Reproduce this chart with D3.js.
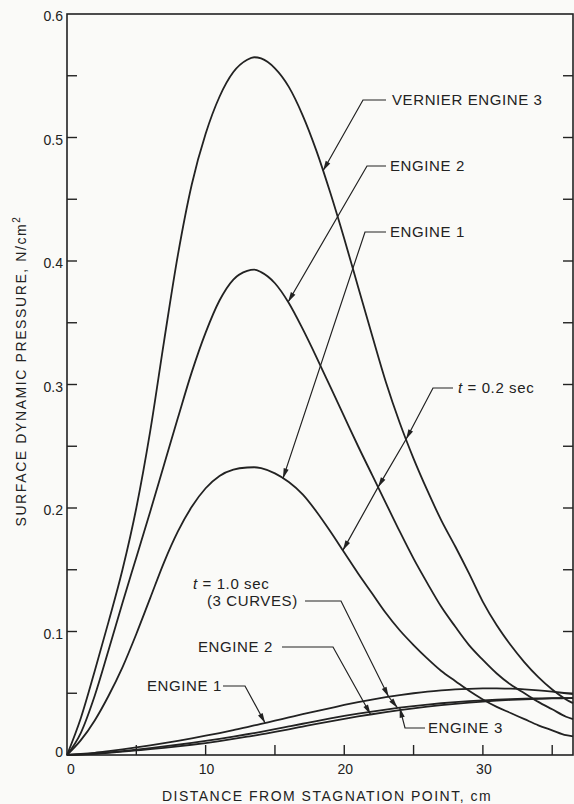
<!DOCTYPE html>
<html>
<head>
<meta charset="utf-8">
<script src="https://cdn.jsdelivr.net/npm/d3@7/dist/d3.min.js"></script>
<style>
  html, body { margin: 0; padding: 0; background: #fafaf8; }
  svg { display: block; }
  text { font-family: "Liberation Sans", Arial, sans-serif; fill: #222; }
</style>
</head>
<body>
<svg id="chart" width="574" height="804"></svg>
<script>
// ---------- DATA ----------
const distanceCm = [0,1,2,3,4,5,6,7,8,9,10,11,12,13,13.5,14,15,16,17,18,19,20,21,22,23,24,25,26,27,28,29,30,31,32,33,34,35,36,36.5];

// t = 0.2 sec
const vernierEngine3_t02 = [0,0.030,0.068,0.108,0.150,0.200,0.262,0.335,0.405,0.462,0.503,0.533,0.553,0.563,0.565,0.564,0.556,0.541,0.518,0.489,0.455,0.418,0.379,0.340,0.302,0.269,0.240,0.214,0.190,0.169,0.147,0.124,0.105,0.089,0.075,0.063,0.053,0.045,0.042];
const engine2_t02 = [0,0.018,0.048,0.085,0.123,0.160,0.197,0.235,0.273,0.310,0.342,0.368,0.385,0.392,0.393,0.391,0.382,0.366,0.345,0.322,0.298,0.274,0.250,0.227,0.204,0.181,0.159,0.139,0.120,0.104,0.089,0.077,0.066,0.057,0.050,0.043,0.037,0.031,0.029];
const engine1_t02 = [0,0.012,0.028,0.048,0.071,0.098,0.127,0.156,0.181,0.201,0.216,0.226,0.231,0.2328,0.233,0.2322,0.228,0.221,0.211,0.197,0.181,0.164,0.147,0.131,0.115,0.101,0.089,0.078,0.068,0.060,0.052,0.045,0.039,0.034,0.029,0.024,0.020,0.016,0.015];

// t = 1.0 sec
const engine1_t10 = [0,0.0008,0.0018,0.0031,0.0045,0.0061,0.0078,0.0096,0.0115,0.0135,0.0156,0.0178,0.0202,0.0226,0.0239,0.0252,0.0278,0.0304,0.0330,0.0355,0.0380,0.0405,0.0428,0.0449,0.0468,0.0485,0.0500,0.0513,0.0523,0.0531,0.0536,0.0539,0.0540,0.0537,0.0532,0.0524,0.0513,0.0500,0.0494];
const engine2_t10 = [0,0.0004,0.0010,0.0018,0.0027,0.0037,0.0047,0.0058,0.0070,0.0083,0.0097,0.0113,0.0130,0.0148,0.0157,0.0167,0.0187,0.0208,0.0230,0.0252,0.0273,0.0293,0.0312,0.0330,0.0347,0.0363,0.0378,0.0391,0.0403,0.0414,0.0424,0.0433,0.0440,0.0446,0.0451,0.0455,0.0458,0.0460,0.0461];
const engine3_t10 = [0,0.0005,0.0012,0.0021,0.0032,0.0044,0.0056,0.0069,0.0083,0.0098,0.0114,0.0131,0.0149,0.0168,0.0178,0.0188,0.0209,0.0231,0.0253,0.0275,0.0296,0.0316,0.0335,0.0352,0.0368,0.0383,0.0396,0.0408,0.0419,0.0428,0.0436,0.0443,0.0449,0.0453,0.0456,0.0458,0.0460,0.0461,0.0461];

const xTickValues = [0,10,20,30];
const xTickLabels = ["0","10","20","30"];
const xMinorTicks = [5,10,15,20,25,30,35];
const yTickValues = [0,0.1,0.2,0.3,0.4,0.5,0.6];
const yTickLabels = ["0","0.1","0.2","0.3","0.4","0.5","0.6"];
const yMinorTicks = [0.05,0.1,0.15,0.2,0.25,0.3,0.35,0.4,0.45,0.5,0.55];

const xTitle = "DISTANCE FROM STAGNATION POINT, cm";
const yTitle = "SURFACE DYNAMIC PRESSURE, N/cm";

// ---------- LAYOUT ----------
const svg = d3.select("#chart");
const mLeft = 67, mRight = 573, mTop = 14, mBottom = 755;
const x = d3.scaleLinear().domain([0, 36.5]).range([mLeft, mRight]);
const y = d3.scaleLinear().domain([0, 0.6]).range([mBottom, mTop]);
const ink = "#222";

const allSeries = [vernierEngine3_t02, engine2_t02, engine1_t02, engine1_t10, engine2_t10, engine3_t10];

const line = d3.line()
  .x(d => x(d[0]))
  .y(d => y(d[1]))
  .curve(d3.curveMonotoneX);

allSeries.forEach(vals => {
  svg.append("path")
    .attr("d", line(distanceCm.map((d, i) => [d, vals[i]])))
    .attr("fill", "none")
    .attr("stroke", ink)
    .attr("stroke-width", 1.8);
});

// frame
svg.append("rect")
  .attr("x", mLeft).attr("y", mTop)
  .attr("width", mRight - mLeft).attr("height", mBottom - mTop)
  .attr("fill", "none").attr("stroke", ink).attr("stroke-width", 1.6);

// ticks
const tk = 10;
yMinorTicks.forEach(v => {
  svg.append("line").attr("x1", mLeft).attr("x2", mLeft + tk).attr("y1", y(v)).attr("y2", y(v))
    .attr("stroke", ink).attr("stroke-width", 1.4);
  svg.append("line").attr("x1", mRight).attr("x2", mRight - tk).attr("y1", y(v)).attr("y2", y(v))
    .attr("stroke", ink).attr("stroke-width", 1.4);
});
xMinorTicks.forEach(v => {
  svg.append("line").attr("x1", x(v)).attr("x2", x(v)).attr("y1", mBottom).attr("y2", mBottom - tk)
    .attr("stroke", ink).attr("stroke-width", 1.4);
});

// tick labels
yTickValues.forEach((v, i) => {
  svg.append("text").attr("x", mLeft - 4).attr("y", y(v) + (v === 0 ? -2 : 3)).attr("dy", "0.32em")
    .attr("text-anchor", "end").attr("font-size", 14).text(yTickLabels[i]);
});
xTickValues.forEach((v, i) => {
  svg.append("text").attr("x", x(v) + (v === 0 ? 4 : 1)).attr("y", 774)
    .attr("text-anchor", "middle").attr("font-size", 14).text(xTickLabels[i]);
});

// axis titles
svg.append("text").attr("x", 327).attr("y", 801).attr("text-anchor", "middle")
  .attr("font-size", 14).attr("letter-spacing", 1.5).text(xTitle);

const yt = svg.append("text").attr("transform", "translate(26,371) rotate(-90)")
  .attr("text-anchor", "middle").attr("font-size", 14).attr("letter-spacing", 1.6);
yt.append("tspan").text(yTitle);
yt.append("tspan").attr("font-size", 10).attr("dy", -6).text("2");

// ---------- ANNOTATIONS ----------
function valueAt(vals, cm) {
  for (let i = 0; i < distanceCm.length - 1; i++) {
    if (cm >= distanceCm[i] && cm <= distanceCm[i + 1]) {
      const t = (cm - distanceCm[i]) / (distanceCm[i + 1] - distanceCm[i]);
      return vals[i] + t * (vals[i + 1] - vals[i]);
    }
  }
  return vals[vals.length - 1];
}
function pt(vals, cm) { return [x(cm), y(valueAt(vals, cm))]; }

function arrowHead(from, to) {
  const dx = to[0] - from[0], dy = to[1] - from[1];
  const L = Math.hypot(dx, dy), ux = dx / L, uy = dy / L;
  const len = 10, hw = 2.6;
  const bx = to[0] - ux * len, by = to[1] - uy * len;
  svg.append("path")
    .attr("d", `M${to[0]},${to[1]} L${bx - uy * hw},${by + ux * hw} L${bx + uy * hw},${by - ux * hw} Z`)
    .attr("fill", ink);
}
function leader(points, arrowsAt) {
  svg.append("path").attr("d", d3.line()(points))
    .attr("fill", "none").attr("stroke", ink).attr("stroke-width", 1.2);
  arrowsAt.forEach(i => arrowHead(points[i - 1], points[i]));
}
function label(tx, ty, str, size) {
  return svg.append("text").attr("x", tx).attr("y", ty).attr("dy", "0.36em")
    .attr("font-size", size || 15).attr("letter-spacing", 0.6).text(str);
}

// t = 0.2 sec labels
label(392, 100, "VERNIER ENGINE 3");
leader([[386, 100], [363, 100], pt(vernierEngine3_t02, 18.47)], [2]);

label(390, 166, "ENGINE 2");
leader([[386, 166], [367, 166], pt(engine2_t02, 15.95)], [2]);

label(390, 232, "ENGINE 1");
leader([[386, 232], [365, 232], pt(engine1_t02, 15.58)], [2]);

const t02 = svg.append("text").attr("x", 458).attr("y", 388).attr("dy", "0.36em")
  .attr("font-size", 15).attr("letter-spacing", 0.6);
t02.append("tspan").attr("font-style", "italic").text("t");
t02.append("tspan").text(" = 0.2 sec");
leader([[453, 388], [433, 388], pt(vernierEngine3_t02, 24.46), pt(engine2_t02, 22.44), pt(engine1_t02, 19.9)], [2, 3, 4]);

// t = 1.0 sec labels
const t10 = svg.append("text").attr("x", 193).attr("y", 584).attr("dy", "0.36em")
  .attr("font-size", 15).attr("letter-spacing", 0.6);
t10.append("tspan").attr("font-style", "italic").text("t");
t10.append("tspan").text(" = 1.0 sec");
label(207, 601, "(3 CURVES)");
leader([[305, 601], [341, 601], pt(engine1_t10, 23.2), pt(engine3_t10, 23.85)], [2, 3]);

label(198, 647, "ENGINE 2");
leader([[282, 647], [333, 647], pt(engine2_t10, 21.9)], [2]);

label(147, 686, "ENGINE 1");
leader([[223, 686], [245, 686], pt(engine1_t10, 14.29)], [2]);

label(428, 728, "ENGINE 3");
leader([[425, 728], [405, 728], pt(engine3_t10, 24.0)], [2]);
</script>
</body>
</html>
